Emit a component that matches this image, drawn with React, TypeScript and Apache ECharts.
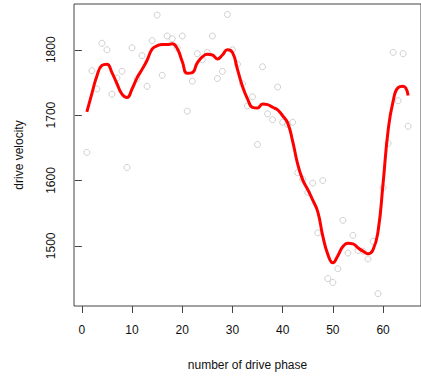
import React, { useEffect, useRef } from "react";
import * as echarts from "echarts";

const phases: number[] = Array.from({ length: 65 }, (_, i) => i + 1);

const velocity: number[] = [
  1643, 1768, 1740, 1810, 1800, 1732, 1757, 1767, 1620, 1803,
  1756, 1791, 1744, 1814, 1853, 1761, 1821, 1817, 1803, 1821,
  1706, 1752, 1794, 1785, 1796, 1821, 1756, 1767, 1854, 1800,
  1778, 1748, 1714, 1728, 1655, 1774, 1702, 1693, 1743, 1689,
  1686, 1689, 1612, 1602, 1582, 1596, 1520, 1600, 1450, 1444,
  1465, 1539, 1489, 1516, 1493, 1492, 1480, 1507, 1427, 1589,
  1657, 1796, 1722, 1794, 1683,
];

const fitted: number[] = [
  1705, 1733, 1760, 1776, 1778, 1765, 1748, 1732, 1727, 1740,
  1757, 1770, 1784, 1801, 1806, 1808, 1808, 1809, 1802, 1782,
  1764, 1765, 1780, 1789, 1793, 1792, 1786, 1792, 1800, 1796,
  1770, 1744, 1725, 1712, 1711, 1717, 1716, 1712, 1708, 1699,
  1688, 1660, 1625, 1601, 1586, 1570, 1552, 1515, 1487, 1474,
  1485, 1499, 1504, 1503, 1497, 1492, 1488, 1494, 1522, 1595,
  1676, 1721, 1742, 1744, 1730,
];

const xTicks: number[] = [0, 10, 20, 30, 40, 50, 60];
const yTicks: number[] = [1500, 1600, 1700, 1800];

const xTitle = "number of drive phase";
const yTitle = "drive velocity";

export default function App() {
  const ref = useRef<HTMLDivElement>(null);

  useEffect(() => {
    if (!ref.current) return;
    const chart = echarts.init(ref.current, undefined, { renderer: "svg" });
    const font = "'Liberation Sans', Arial, sans-serif";
    chart.setOption({
      animation: false,
      backgroundColor: "#ffffff",
      grid: {
        left: 74,
        top: 4,
        width: 353,
        height: 302,
        show: true,
        borderColor: "#444",
        borderWidth: 1,
        backgroundColor: "transparent",
      },
      xAxis: {
        type: "value",
        min: -1.56,
        max: 67.56,
        name: xTitle,
        nameLocation: "middle",
        nameGap: 53,
        nameTextStyle: { fontFamily: font, fontSize: 12, color: "#111" },
        axisLine: { show: false },
        splitLine: { show: false },
        axisTick: {
          show: true,
          length: 7,
          customValues: xTicks,
          lineStyle: { color: "#444", width: 1 },
        },
        axisLabel: {
          customValues: xTicks,
          margin: 18,
          fontFamily: font,
          fontSize: 12,
          color: "#111",
          formatter: (v: number) => String(v),
        },
      },
      yAxis: {
        type: "value",
        min: 1408,
        max: 1870,
        name: yTitle,
        nameLocation: "middle",
        nameGap: 49,
        nameRotate: 90,
        nameTextStyle: { fontFamily: font, fontSize: 12, color: "#111" },
        axisLine: { show: false },
        splitLine: { show: false },
        axisTick: {
          show: true,
          length: 7,
          customValues: yTicks,
          lineStyle: { color: "#444", width: 1 },
        },
        axisLabel: {
          customValues: yTicks,
          rotate: 90,
          margin: 17,
          fontFamily: font,
          fontSize: 12,
          color: "#111",
          formatter: (v: number) => String(v),
        },
      },
      series: [
        {
          type: "scatter",
          data: phases.map((p, i) => [p, velocity[i]]),
          symbol: "circle",
          symbolSize: 6,
          itemStyle: { color: "rgba(0,0,0,0)", borderColor: "#bdbdbd", borderWidth: 0.9 },
          silent: true,
          z: 2,
        },
        {
          type: "line",
          data: phases.map((p, i) => [p, fitted[i]]),
          smooth: 0.5,
          showSymbol: false,
          lineStyle: { color: "#ff0000", width: 3 },
          silent: true,
          z: 3,
        },
      ],
    });
    return () => chart.dispose();
  }, []);

  return (
    <div
      ref={ref}
      style={{ position: "fixed", left: 0, top: 0, width: 421, height: 376 }}
    />
  );
}
